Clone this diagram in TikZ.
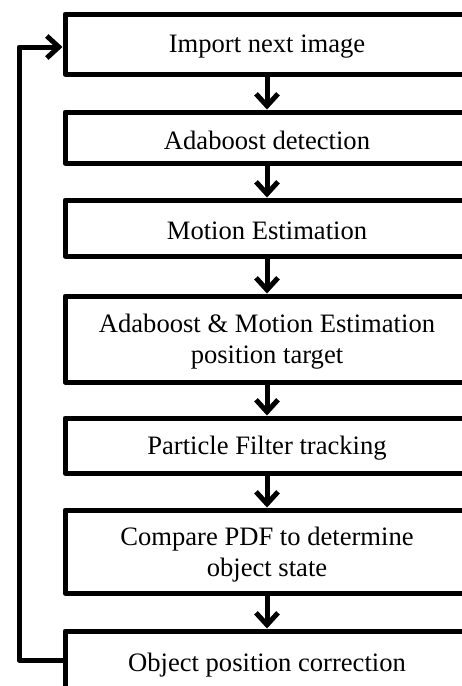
\documentclass[tikz,border=0pt]{standalone}
\usepackage{fontspec}
\setmainfont{Liberation Serif}
\usetikzlibrary{arrows.meta}
\begin{document}
\begin{tikzpicture}[x=1pt,y=-1pt,
  stepbox/.style={draw=black, line width=5pt, line join=round, fill=white,
    minimum width=404pt, inner sep=0pt},
  steptext/.style={inner sep=0pt, align=center,
    font=\fontsize{26.6}{31}\selectfont},
  flow/.style={draw=black, line width=5pt, line join=round,
    -{Straight Barb[length=12pt,width=22pt,line width=5pt]}}]
\clip (0,0) rectangle (462,686);
\fill[white] (0,0) rectangle (462,686);
\node[stepbox, minimum height=60pt] (b1) at (267,44) {};
\node[stepbox, minimum height=51pt] (b2) at (267,137.5) {};
\node[stepbox, minimum height=56pt] (b3) at (267,228) {};
\node[stepbox, minimum height=86pt] (b4) at (267,339) {};
\node[stepbox, minimum height=55pt] (b5) at (267,445.5) {};
\node[stepbox, minimum height=83pt] (b6) at (267,551.5) {};
\node[stepbox, minimum height=62pt] (b7) at (267,662) {};
\node[steptext] (t1) at ([yshift=-3pt]b1.center) {Import next image};
\node[steptext] (t2) at ([yshift=-3pt]b2.center) {Adaboost detection};
\node[steptext] (t3) at ([yshift=-3pt]b3.center) {Motion Estimation};
\node[steptext] (t4) at ([yshift=-3pt]b4.center) {Adaboost \& Motion Estimation\\position target};
\node[steptext] (t5) at ([yshift=-3pt]b5.center) {Particle Filter tracking};
\node[steptext] (t6) at ([yshift=-3pt]b6.center) {Compare PDF to determine\\object state};
\node[steptext] (t7) at ([yshift=-3pt]b7.center) {Object position correction};
\coordinate (lc) at (19,47);
\draw[flow] (b1.south) -- (b2.north);
\draw[flow] (b2.south) -- (b3.north);
\draw[flow] (b3.south) -- (b4.north);
\draw[flow] (b4.south) -- (b5.north);
\draw[flow] (b5.south) -- (b6.north);
\draw[flow] (b6.south) -- (b7.north);
\draw[flow] ([yshift=2pt]b7.west) -| (lc) -- ([yshift=-3pt]b1.west);
\end{tikzpicture}
\end{document}
